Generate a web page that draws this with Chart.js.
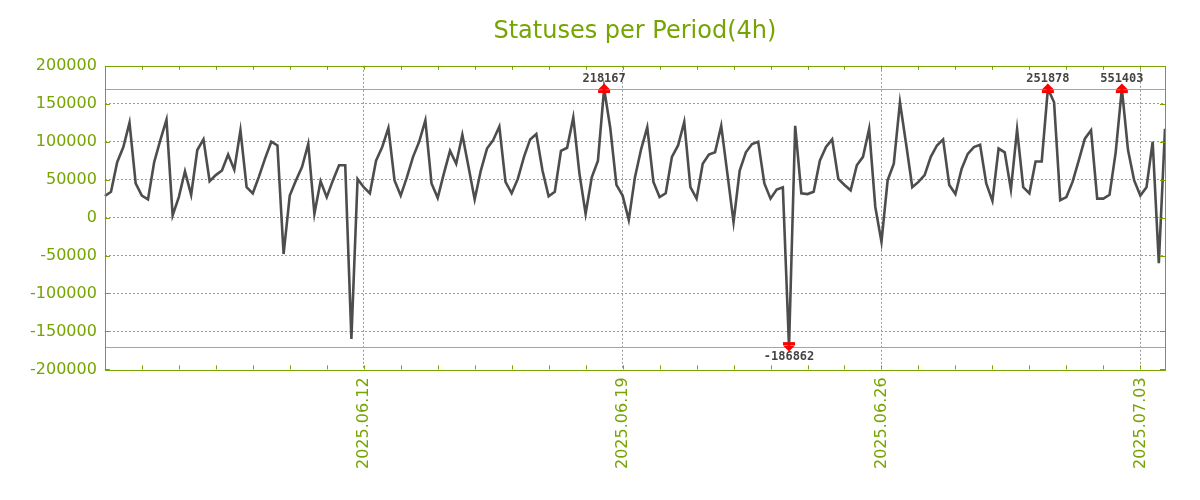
<!DOCTYPE html>
<html>
<head>
<meta charset="utf-8">
<title>Statuses per Period(4h)</title>
<script src="https://cdn.jsdelivr.net/npm/chart.js"></script>
<style>
  html, body { margin: 0; padding: 0; background: #ffffff; }
  #wrap { width: 1200px; height: 500px; }
</style>
</head>
<body>
<div id="wrap"><canvas id="statusChart" width="1200" height="500"></canvas></div>
<script>
// ─────────────────────────────────────────────
// DATA (one value per 4h period, from 2025.06.05 00:00)
// ─────────────────────────────────────────────
const startDay = '2025.06.05';
const periodHours = 4;

const statusCounts = [
  28500, 34000, 73000, 93000, 125000, 45000, 29000, 24000, 73000, 102000,
  129000, 3000, 27000, 61000, 30000, 89000, 103000, 48000, 56000, 62000,
  83000, 63000, 115000, 40000, 32000, 54000, 78000, 100000, 95000, -48000,
  29000, 49000, 67000, 97000, 5000, 48000, 27000, 49000, 69000, 69000,
  -160000, 51000, 40000, 32000, 75000, 93000, 118000, 49000, 29000, 53000,
  80000, 100000, 128000, 45000, 26000, 58000, 88000, 71000, 109000, 67000,
  24000, 62000, 91000, 102000, 120000, 47000, 32000, 51000, 80000, 103000,
  110000, 62000, 28000, 34000, 88000, 92000, 132000, 58000, 5000, 53000,
  75000, 218167, 118000, 43000, 29000, -3000, 53000, 90000, 119000, 47000,
  27000, 32000, 80000, 95000, 126000, 40000, 25000, 71000, 83000, 86000,
  121000, 58000, -6000, 62000, 86000, 97000, 100000, 45000, 25000, 37000,
  40000, -186862, 121000, 32000, 31000, 34000, 75000, 93000, 103000, 51000,
  43000, 36000, 69000, 80000, 117000, 14000, -32000, 49000, 71000, 152000,
  97000, 40000, 47000, 56000, 80000, 95000, 103000, 43000, 31000, 64000,
  84000, 93000, 96000, 45000, 22000, 91000, 86000, 37000, 116000, 40000,
  32000, 74000, 74000, 251878, 152000, 23000, 27000, 47000, 75000, 104000,
  115000, 25000, 25000, 30000, 86000, 551403, 89000, 49000, 29000, 40000,
  100000, -60000, 117000
];

const weekLabels = ['2025.06.12', '2025.06.19', '2025.06.26', '2025.07.03'];
const yTicks = [-200000, -150000, -100000, -50000, 0, 50000, 100000, 150000, 200000];
const clipHigh = 170000;
const clipLow = -170000;

// period labels: "YYYY.MM.DD HH:MM"
const pad2 = n => String(n).padStart(2, '0');
const startMs = Date.UTC(+startDay.slice(0, 4), +startDay.slice(5, 7) - 1, +startDay.slice(8, 10));
const periodLabels = statusCounts.map((_, i) => {
  const d = new Date(startMs + i * periodHours * 3600 * 1000);
  return d.getUTCFullYear() + '.' + pad2(d.getUTCMonth() + 1) + '.' + pad2(d.getUTCDate()) +
    ' ' + pad2(d.getUTCHours()) + ':' + pad2(d.getUTCMinutes());
});

const plotted = statusCounts.map(v => Math.max(clipLow, Math.min(clipHigh, v)));

// ─────────────────────────────────────────────
// STYLE
// ─────────────────────────────────────────────
const GREEN = '#76a400';
const CLIP = '#ea8f5c';
const GRID = '#9a9a9a';

// ─────────────────────────────────────────────
// PLUGIN: frame, inner ticks, clip lines, overflow markers
// ─────────────────────────────────────────────
const decorations = {
  id: 'decorations',
  beforeDatasetsDraw(chart) {
    const { ctx, chartArea: a, scales: { y } } = chart;
    ctx.save();
    ctx.strokeStyle = CLIP;
    ctx.lineWidth = 1;
    [clipHigh, clipLow].forEach(v => {
      const py = Math.round(y.getPixelForValue(v)) + 0.5;
      ctx.beginPath();
      ctx.moveTo(a.left, py);
      ctx.lineTo(a.right, py);
      ctx.stroke();
    });
    ctx.restore();
  },
  afterDatasetsDraw(chart) {
    const { ctx, chartArea: a, scales: { x, y } } = chart;
    ctx.save();

    // frame
    ctx.strokeStyle = GREEN;
    ctx.lineWidth = 1;
    ctx.strokeRect(Math.round(a.left) + 0.5, Math.round(a.top) + 0.5,
      Math.round(a.right - a.left), Math.round(a.bottom - a.top));

    // inner ticks: daily on x, every y tick on both sides
    ctx.beginPath();
    periodLabels.forEach((lab, i) => {
      if (!lab.endsWith('00:00')) return;
      const px = Math.round(x.getPixelForValue(i)) + 0.5;
      ctx.moveTo(px, a.top); ctx.lineTo(px, a.top + 4);
      ctx.moveTo(px, a.bottom); ctx.lineTo(px, a.bottom - 4);
    });
    yTicks.forEach(v => {
      const py = Math.round(y.getPixelForValue(v)) + 0.5;
      ctx.moveTo(a.left, py); ctx.lineTo(a.left + 5, py);
      ctx.moveTo(a.right, py); ctx.lineTo(a.right - 5, py);
    });
    ctx.stroke();

    // overflow markers + real values
    ctx.font = "bold 12px 'DejaVu Sans Mono'";
    ctx.textAlign = 'center';
    statusCounts.forEach((v, i) => {
      if (v <= clipHigh && v >= clipLow) return;
      const px = x.getPixelForValue(i);
      const up = v > clipHigh;
      const py = y.getPixelForValue(up ? clipHigh : clipLow);
      const s = up ? 1 : -1;
      ctx.fillStyle = '#ff0000';
      ctx.beginPath();
      ctx.moveTo(px, py - s * 5);
      ctx.lineTo(px + 6, py + s * 1);
      ctx.lineTo(px - 6, py + s * 1);
      ctx.closePath();
      ctx.fill();
      ctx.fillRect(px - 6, up ? py + 1.5 : py - 4.5, 12, 3);
      ctx.fillStyle = '#444444';
      ctx.textBaseline = up ? 'bottom' : 'top';
      ctx.fillText(String(v), px, up ? py - 4 : py + 4);
    });
    ctx.restore();
  }
};

// ─────────────────────────────────────────────
// CHART
// ─────────────────────────────────────────────
new Chart(document.getElementById('statusChart').getContext('2d'), {
  type: 'line',
  data: {
    labels: periodLabels,
    datasets: [{
      label: 'Statuses',
      data: plotted,
      borderColor: '#4d4d4d',
      borderWidth: 2.6,
      pointRadius: 0,
      tension: 0,
      fill: false
    }]
  },
  options: {
    responsive: false,
    animation: false,
    layout: { padding: { left: 22, right: 35, top: 3, bottom: 23 } },
    plugins: {
      legend: { display: false },
      tooltip: { enabled: false },
      title: {
        display: true,
        text: 'Statuses per Period(4h)',
        color: GREEN,
        fullSize: false,
        font: { family: "'DejaVu Sans'", size: 24, weight: 'normal', lineHeight: 1.2 },
        padding: { top: 14, bottom: 20 }
      }
    },
    scales: {
      x: {
        type: 'category',
        offset: false,
        afterBuildTicks(scale) {
          scale.ticks = scale.ticks.filter(t => {
            const lab = periodLabels[t.value];
            return lab.endsWith('00:00') && weekLabels.includes(lab.slice(0, 10));
          });
        },
        grid: { color: GRID, drawTicks: false },
        border: { display: false, dash: [2, 2] },
        ticks: {
          autoSkip: false,
          minRotation: 90,
          maxRotation: 90,
          padding: 8,
          color: GREEN,
          font: { family: "'DejaVu Sans'", size: 16 },
          callback(value) { return periodLabels[value].slice(0, 10); }
        }
      },
      y: {
        min: -200000,
        max: 200000,
        afterBuildTicks(scale) {
          scale.ticks = yTicks.map(v => ({ value: v }));
        },
        grid: {
          color: c => (c.tick && Math.abs(c.tick.value) === 200000) ? 'rgba(0,0,0,0)' : GRID,
          drawTicks: false
        },
        border: { display: false, dash: [2, 2] },
        ticks: {
          padding: 8,
          color: GREEN,
          font: { family: "'DejaVu Sans'", size: 16 },
          callback(value) { return String(value); }
        }
      }
    }
  },
  plugins: [decorations]
});
</script>
</body>
</html>
